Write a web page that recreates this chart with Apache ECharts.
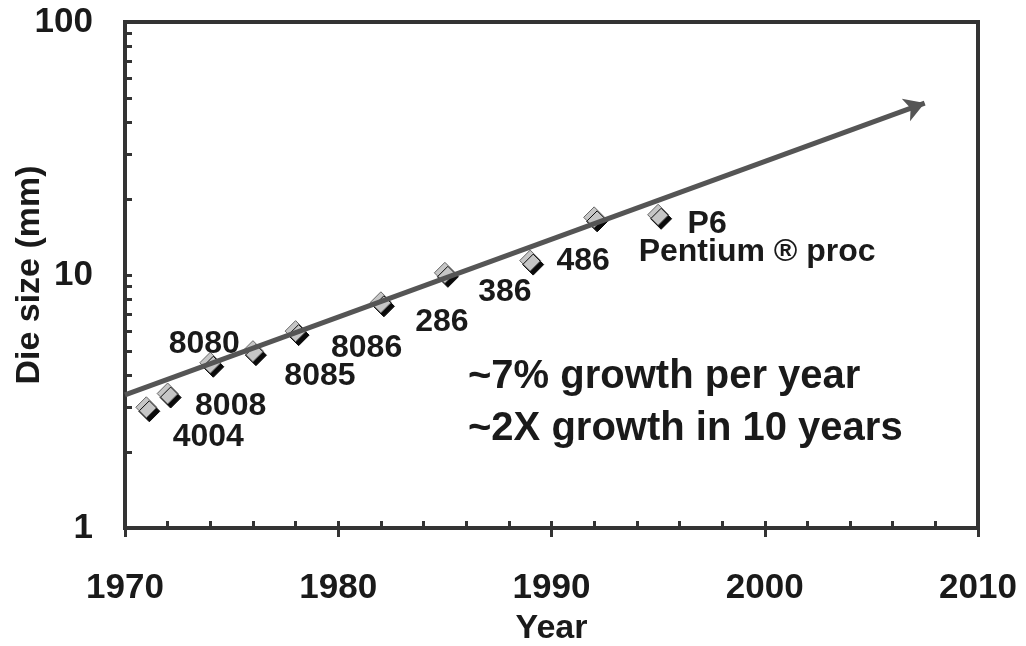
<!DOCTYPE html>
<html>
<head>
<meta charset="utf-8">
<script src="https://cdn.jsdelivr.net/npm/echarts@6/dist/echarts.min.js"></script>
<style>
html, body { margin: 0; padding: 0; background: #fff; }
#main { width: 1026px; height: 646px; }
</style>
</head>
<body>
<div id="main"></div>
<script>
"use strict";
// data
let chips = ['4004', '8008', '8080', '8085', '8086', '286', '386', '486', 'Pentium ® proc', 'P6'];
let years = [1971, 1972, 1974, 1976, 1978, 1982, 1985, 1989, 1992, 1995];
let dieSize = [3.0, 3.4, 4.5, 5.0, 6.0, 7.8, 10.2, 11.4, 16.9, 17.3];
let trendLine = [[1970, 3.36], [2007.5, 47.8]];
let yMinorTicks = [2, 3, 4, 5, 6, 7, 8, 9, 10, 20, 30, 40, 50, 60, 70, 80, 90];
let notes = ['~7% growth per year', '~2X growth in 10 years'];

// where each chip name sits relative to its marker
let labelOffsets = [[62, 30], [63, 13], [-6, -19], [67, 25], [71, 17], [61, 20], [60, 19], [53, 1], [163, 35], [49, 9]];

const font = "'Liberation Sans', Arial, sans-serif";
const ink = '#1a1a1a';
const axisColor = '#333';
const gridBox = { left: 125, right: 48, top: 22, bottom: 118, containLabel: false, outerBoundsMode: 'none' };

let myChart = echarts.init(document.getElementById('main'));

let points = years.map(function (y, i) {
    return {
        value: [y, dieSize[i]],
        name: chips[i],
        label: { offset: labelOffsets[i] }
    };
});

let option = {
    animation: false,
    textStyle: { fontFamily: font },
    grid: [
        Object.assign({ show: true, borderColor: axisColor, borderWidth: 4 }, gridBox),
        Object.assign({ show: false }, gridBox)
    ],
    xAxis: [
        {
            gridIndex: 0,
            type: 'value',
            min: 1970,
            max: 2010,
            interval: 10,
            name: 'Year',
            nameLocation: 'middle',
            nameGap: 84,
            nameMoveOverlap: false,
            nameTextStyle: { fontSize: 34, fontWeight: 'bold', color: ink, fontFamily: font },
            axisLine: { lineStyle: { color: axisColor, width: 4 } },
            axisTick: { inside: false, length: 9, lineStyle: { color: axisColor, width: 3 } },
            axisLabel: {
                fontSize: 35, fontWeight: 'bold', color: ink, margin: 43, fontFamily: font,
                formatter: function (v) { return String(v); }
            },
            splitLine: { show: false }
        },
        {
            gridIndex: 1,
            type: 'value',
            min: 1970,
            max: 2010,
            interval: 2,
            axisLine: { show: false },
            axisTick: { inside: true, length: 7, lineStyle: { color: axisColor, width: 3 } },
            axisLabel: { show: false },
            splitLine: { show: false }
        }
    ],
    yAxis: [
        {
            gridIndex: 0,
            type: 'log',
            logBase: 10,
            min: 1,
            max: 100,
            name: 'Die size (mm)',
            nameLocation: 'middle',
            nameGap: 78,
            nameMoveOverlap: false,
            nameTextStyle: { fontSize: 34, fontWeight: 'bold', color: ink, fontFamily: font },
            axisLine: { lineStyle: { color: axisColor, width: 4 } },
            axisTick: { show: false },
            axisLabel: { fontSize: 35, fontWeight: 'bold', color: ink, margin: 32, fontFamily: font },
            splitLine: { show: false }
        },
        {
            gridIndex: 1,
            type: 'value',
            min: 0,
            max: 2,
            axisLine: { show: false },
            axisTick: {
                inside: true,
                length: 7,
                customValues: yMinorTicks.map(Math.log10),
                lineStyle: { color: axisColor, width: 3 }
            },
            axisLabel: { show: false },
            splitLine: { show: false }
        }
    ],
    graphic: notes.map(function (t, i) {
        return {
            type: 'text',
            left: 468,
            top: 357 + i * 52,
            style: { text: t, fontSize: 40, fontWeight: 'bold', fill: ink, fontFamily: font }
        };
    }),
    series: [
        {
            name: 'trend',
            type: 'line',
            xAxisIndex: 0,
            yAxisIndex: 0,
            data: [],
            z: 1,
            markLine: {
                silent: true,
                symbol: ['none', 'arrow'],
                symbolSize: [18, 20],
                label: { show: false },
                lineStyle: { color: '#555', width: 5, type: 'solid' },
                emphasis: { disabled: true },
                data: [[{ coord: trendLine[0] }, { coord: trendLine[1] }]]
            }
        },
        {
            name: 'chips',
            type: 'scatter',
            xAxisIndex: 0,
            yAxisIndex: 0,
            z: 3,
            symbol: 'diamond',
            symbolSize: 21,
            itemStyle: {
                color: '#c6c6c6',
                opacity: 1,
                borderColor: '#666',
                borderWidth: 1,
                shadowColor: '#0a0a0a',
                shadowBlur: 0,
                shadowOffsetX: 3,
                shadowOffsetY: 4
            },
            label: {
                show: true,
                position: 'inside',
                formatter: '{b}',
                fontSize: 32,
                fontWeight: 'bold',
                color: ink,
                textBorderWidth: 0,
                fontFamily: font
            },
            emphasis: { disabled: true },
            data: points
        }
    ]
};
myChart.setOption(option);
</script>
</body>
</html>
